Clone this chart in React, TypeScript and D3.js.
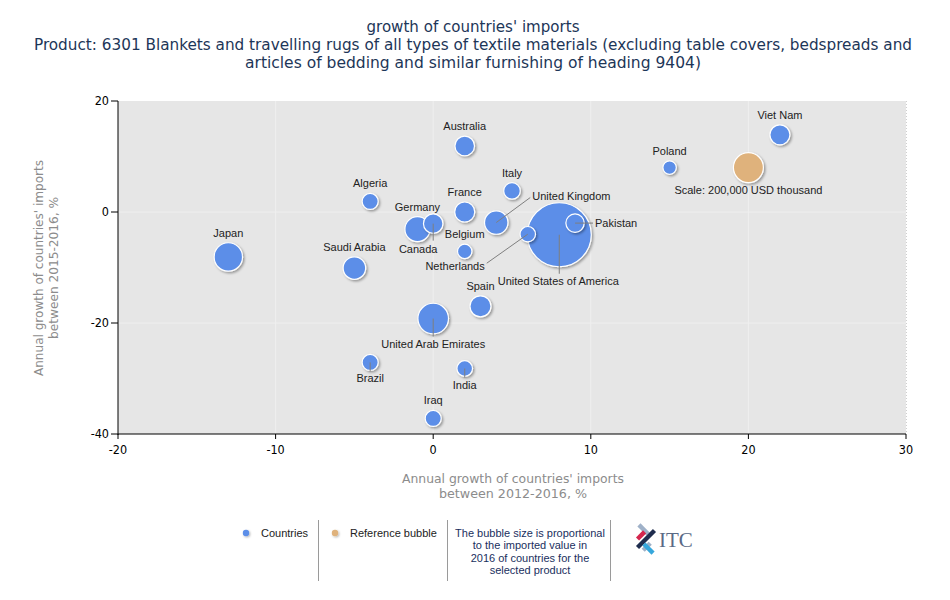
import React from 'react';
import * as d3 from 'd3';

// ---------- data ----------
const countries = [
  'Japan', 'Saudi Arabia', 'Algeria', 'Germany', 'Canada', 'Australia', 'France',
  'Belgium', 'Italy', 'United Kingdom', 'Netherlands', 'United States of America',
  'Pakistan', 'Spain', 'United Arab Emirates', 'Brazil', 'India', 'Iraq', 'Poland', 'Viet Nam',
];
// Annual growth 2012-2016, %
const growth2012_2016 = [-13, -5, -4, -1, 0, 2, 2, 2, 5, 4, 6, 8, 9, 3, 0, -4, 2, 0, 15, 22];
// Annual growth 2015-2016, %
const growth2015_2016 = [-8.1, -10.1, 1.9, -3.1, -2.1, 11.9, 0, -7.1, 3.8, -1.9, -4, -4.1, -2, -17, -19.2, -27.1, -28.2, -37.2, 8, 13.9];
// Imported value 2016, USD thousand
const importValue2016 = [179000, 113000, 57000, 139000, 84000, 85000, 89000, 46000, 61000, 122000, 53000, 910000, 75000, 98000, 208000, 57000, 54000, 57000, 40000, 89000];

const referenceLabel = 'Scale: 200,000 USD thousand';
const referenceX = [20];
const referenceY = [8];
const referenceValue = [200000];

const xTicks = [-20, -10, 0, 10, 20, 30];
const yTicks = [20, 0, -20, -40];

const titleLines = [
  "growth of countries' imports",
  'Product: 6301 Blankets and travelling rugs of all types of textile materials (excluding table covers, bedspreads and',
  'articles of bedding and similar furnishing of heading 9404)',
];
const xAxisTitle = ["Annual growth of countries' imports", 'between 2012-2016, %'];
const yAxisTitle = ["Annual growth of countries' imports", 'between 2015-2016, %'];
const legendNote = ['The bubble size is proportional', 'to the imported value in', '2016 of countries for the', 'selected product'];

// label layout (pixel offsets from bubble centre) for labels that are not simply above the bubble
type Place = { dx: number; dy: number; anchor: 'start' | 'middle' | 'end'; lx?: number; ly?: number };
const labelPlacement: Record<string, Place> = {
  Canada: { dx: -15, dy: 29, anchor: 'middle', lx: 0, ly: 17 },
  'United Kingdom': { dx: 36, dy: -23, anchor: 'start', lx: 34, ly: -25 },
  Netherlands: { dx: -43, dy: 36, anchor: 'end', lx: -41, ly: 29 },
  'United States of America': { dx: -1, dy: 50, anchor: 'middle', lx: 0, ly: 39 },
  Pakistan: { dx: 20, dy: 4, anchor: 'start', lx: 18, ly: 0 },
  'United Arab Emirates': { dx: 0, dy: 29, anchor: 'middle', lx: 0, ly: 18 },
  Brazil: { dx: 0, dy: 20, anchor: 'middle', lx: 0, ly: 9 },
  India: { dx: 0, dy: 20, anchor: 'middle', lx: 0, ly: 9 },
};

// ---------- layout ----------
const W = 950;
const H = 600;
const plot = { left: 118, right: 906, top: 101, bottom: 434 };
const BLUE = '#5b8ee8';
const TAN = '#dfb27c';
const LABEL_FONT = "'Liberation Sans', Arial, sans-serif";
const TAHOMA = "'DejaVu Sans Condensed', 'Liberation Sans Narrow', 'Liberation Sans', sans-serif";
const titleWidths = [213, 878, 456];
const axisTitleWidths = [222, 148];

export default function App() {
  const x = d3.scaleLinear().domain([-20, 30]).range([plot.left, plot.right]);
  const y = d3.scaleLinear().domain([-40, 20]).range([plot.bottom, plot.top]);
  const r = d3.scaleSqrt().domain([0, 200000]).range([0, 15]);

  const pts = countries.map((name, i) => ({
    name,
    cx: x(growth2012_2016[i]),
    cy: y(growth2015_2016[i]),
    r: r(importValue2016[i]),
  }));
  const drawOrder = [...pts].sort((a, b) => b.r - a.r);
  const ref = { cx: x(referenceX[0]), cy: y(referenceY[0]), r: r(referenceValue[0]) };

  return (
    <svg width={W} height={H} style={{ position: 'absolute', left: 0, top: 0, background: '#fff' }}>
      <defs>
        <filter id="shadow" x="-50%" y="-50%" width="200%" height="200%">
          <feDropShadow dx="1.5" dy="1.5" stdDeviation="1" floodColor="#000" floodOpacity="0.35" />
        </filter>
        <filter id="shadowSmall" x="-80%" y="-80%" width="260%" height="260%">
          <feDropShadow dx="1" dy="1" stdDeviation="0.8" floodColor="#000" floodOpacity="0.3" />
        </filter>
      </defs>

      {/* title */}
      {titleLines.map((t, i) => (
        <text
          key={i}
          x={473}
          y={32 + i * 18}
          textAnchor="middle"
          fontFamily={TAHOMA}
          fontSize={15}
          fill="#1d3658"
          textLength={titleWidths[i]}
          lengthAdjust="spacingAndGlyphs"
        >
          {t}
        </text>
      ))}

      {/* plot background */}
      <rect x={plot.left} y={plot.top} width={plot.right - plot.left} height={plot.bottom - plot.top} fill="#e6e6e6" />
      {xTicks.slice(1, -1).map((t) => (
        <line key={'gx' + t} x1={x(t)} x2={x(t)} y1={plot.top} y2={plot.bottom} stroke="#efefef" strokeWidth={1} />
      ))}
      {yTicks.slice(1, -1).map((t) => (
        <line key={'gy' + t} x1={plot.left} x2={plot.right} y1={y(t)} y2={y(t)} stroke="#efefef" strokeWidth={1} />
      ))}
      <line x1={plot.right + 0.5} x2={plot.right + 0.5} y1={plot.top} y2={plot.bottom} stroke="#cfcfcf" strokeDasharray="1,2" />

      {/* axes */}
      <line x1={plot.left} x2={plot.left} y1={plot.top} y2={plot.bottom + 1} stroke="#000" strokeWidth={1} />
      <line x1={plot.left} x2={plot.right} y1={plot.bottom} y2={plot.bottom} stroke="#000" strokeWidth={1} />
      {yTicks.map((t) => (
        <g key={'yt' + t}>
          <line x1={plot.left - 7} x2={plot.left} y1={y(t)} y2={y(t)} stroke="#000" />
          <text x={plot.left - 9} y={y(t) + 4} textAnchor="end" fontFamily={TAHOMA} fontSize={12.5} fill="#000">
            {t}
          </text>
        </g>
      ))}
      {xTicks.map((t) => (
        <g key={'xt' + t}>
          <line x1={x(t)} x2={x(t)} y1={plot.bottom} y2={plot.bottom + 5} stroke="#000" />
          <text x={x(t)} y={plot.bottom + 20} textAnchor="middle" fontFamily={TAHOMA} fontSize={12.5} fill="#000">
            {t}
          </text>
        </g>
      ))}

      {/* axis titles */}
      {xAxisTitle.map((t, i) => (
        <text
          key={'xa' + i}
          x={513}
          y={483 + i * 15}
          textAnchor="middle"
          fontFamily={TAHOMA}
          fontSize={13}
          fill="#8c8c8c"
          textLength={axisTitleWidths[i]}
          lengthAdjust="spacingAndGlyphs"
        >
          {t}
        </text>
      ))}
      {yAxisTitle.map((t, i) => (
        <text
          key={'ya' + i}
          transform={`translate(${43 + i * 15},268) rotate(-90)`}
          textAnchor="middle"
          fontFamily={TAHOMA}
          fontSize={13}
          fill="#8c8c8c"
          textLength={axisTitleWidths[i] - 6}
          lengthAdjust="spacingAndGlyphs"
        >
          {t}
        </text>
      ))}

      {/* bubbles */}
      {drawOrder.map((p) => (
        <circle key={p.name} cx={p.cx} cy={p.cy} r={p.r} fill={BLUE} stroke="#fff" strokeWidth={1.2} filter="url(#shadow)" />
      ))}
      <circle cx={ref.cx} cy={ref.cy} r={ref.r} fill={TAN} stroke="#fff" strokeWidth={1.2} filter="url(#shadow)" />

      {/* leader lines */}
      {pts.map((p) => {
        const pl = labelPlacement[p.name];
        if (!pl || pl.lx === undefined) return null;
        return (
          <line key={'l' + p.name} x1={p.cx} y1={p.cy} x2={p.cx + pl.lx} y2={p.cy + (pl.ly ?? 0)} stroke="#7f7f7f" strokeWidth={1} />
        );
      })}

      {/* labels */}
      {pts.map((p) => {
        const pl = labelPlacement[p.name];
        const lx = pl ? p.cx + pl.dx : p.cx;
        const ly = pl ? p.cy + pl.dy : p.cy - p.r - 6;
        return (
          <text key={'t' + p.name} x={lx} y={ly} textAnchor={pl ? pl.anchor : 'middle'} fontFamily={LABEL_FONT} fontSize={11} fill="#222">
            {p.name}
          </text>
        );
      })}
      <text x={ref.cx} y={ref.cy + 26} textAnchor="middle" fontFamily={LABEL_FONT} fontSize={11} fill="#222">
        {referenceLabel}
      </text>

      {/* legend */}
      <circle cx={246} cy={533} r={3.2} fill={BLUE} filter="url(#shadowSmall)" />
      <text x={261} y={537} fontFamily={LABEL_FONT} fontSize={11} fill="#222">Countries</text>
      <line x1={318.5} x2={318.5} y1={520} y2={581} stroke="#9a9a9a" />
      <circle cx={335} cy={533} r={3.2} fill={TAN} filter="url(#shadowSmall)" />
      <text x={350} y={537} fontFamily={LABEL_FONT} fontSize={11} fill="#222">Reference bubble</text>
      <line x1={447.5} x2={447.5} y1={520} y2={581} stroke="#9a9a9a" />
      {legendNote.map((t, i) => (
        <text key={'n' + i} x={530} y={537 + i * 12.3} textAnchor="middle" fontFamily={LABEL_FONT} fontSize={11} fill="#1a2f5e">
          {t}
        </text>
      ))}
      <line x1={610.5} x2={610.5} y1={520} y2={581} stroke="#9a9a9a" />

      {/* ITC logo */}
      <g transform="translate(646,539)">
        <rect x={-12} y={-2.2} width={13} height={4.4} fill="#9fb1c8" transform="rotate(45) translate(-3,-5)" />
        <rect x={-12} y={-2.2} width={24} height={4.4} fill="#1f2d4e" transform="rotate(-45)" />
        <rect x={-12} y={-2.2} width={10} height={4.4} fill="#d4264d" transform="rotate(-45) translate(6,-6)" />
        <rect x={-12} y={-2.2} width={10} height={4.4} fill="#9fb1c8" transform="rotate(-45) translate(2,6)" />
        <rect x={-1} y={-2.2} width={13} height={4.4} fill="#36a7dc" transform="rotate(45) translate(3,5)" />
      </g>
      <text x={659} y={547} fontFamily="'Liberation Serif', 'DejaVu Serif', serif" fontSize={21} fill="#5a6a86">ITC</text>
    </svg>
  );
}
